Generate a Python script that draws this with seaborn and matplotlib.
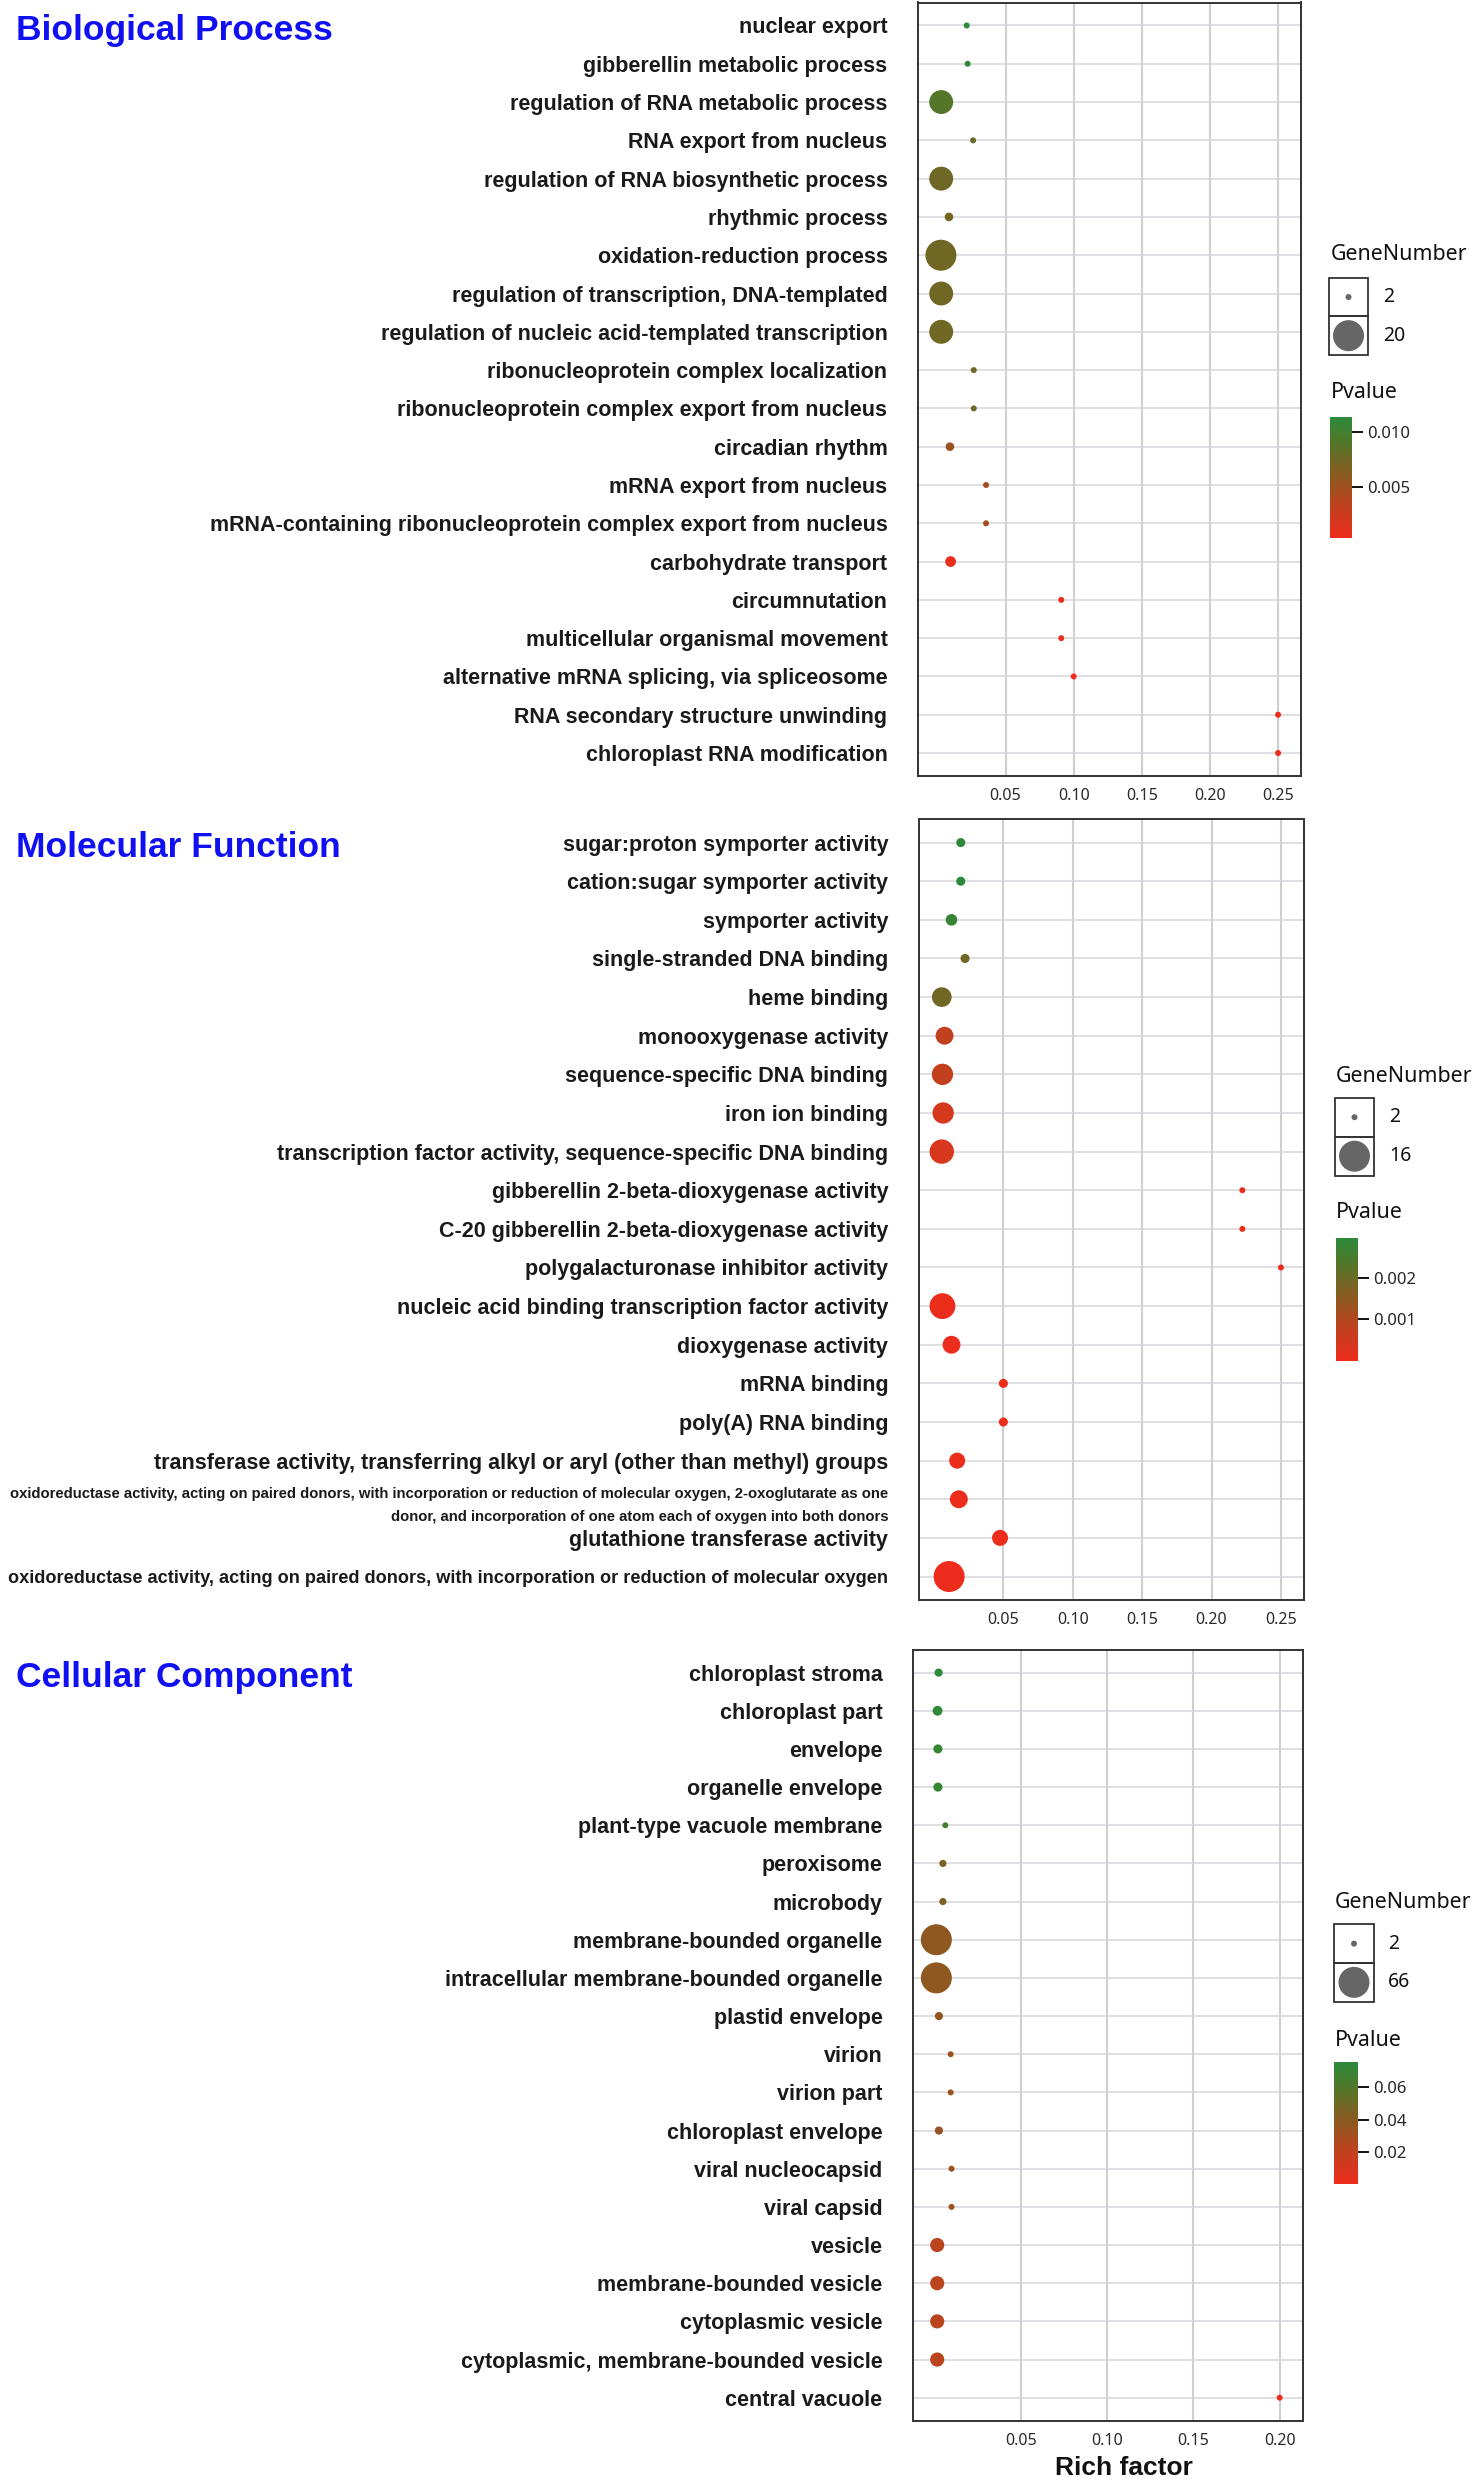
"""GO enrichment bubble chart: Biological Process, Molecular Function, Cellular Component."""

import matplotlib

matplotlib.use("Agg")
import matplotlib.pyplot as plt
import numpy as np
import pandas as pd
import seaborn as sns
from matplotlib import cm
from matplotlib.colors import LinearSegmentedColormap, Normalize
from matplotlib.patches import Rectangle

# ---------------- data ----------------
BP_TERMS = [
    "nuclear export",
    "gibberellin metabolic process",
    "regulation of RNA metabolic process",
    "RNA export from nucleus",
    "regulation of RNA biosynthetic process",
    "rhythmic process",
    "oxidation-reduction process",
    "regulation of transcription, DNA-templated",
    "regulation of nucleic acid-templated transcription",
    "ribonucleoprotein complex localization",
    "ribonucleoprotein complex export from nucleus",
    "circadian rhythm",
    "mRNA export from nucleus",
    "mRNA-containing ribonucleoprotein complex export from nucleus",
    "carbohydrate transport",
    "circumnutation",
    "multicellular organismal movement",
    "alternative mRNA splicing, via spliceosome",
    "RNA secondary structure unwinding",
    "chloroplast RNA modification",
]
BP_RICH = [0.0215, 0.0222, 0.0028, 0.0262, 0.0028, 0.0085, 0.0026, 0.0028, 0.0028, 0.0267,
           0.0267, 0.0092, 0.0357, 0.0357, 0.0097, 0.0909, 0.0909, 0.1000, 0.2500, 0.2500]
BP_GENES = [2, 2, 13, 2, 13, 3, 20, 13, 13, 2, 2, 3, 2, 2, 4, 2, 2, 2, 2, 2]
BP_PVALUE = [0.01134, 0.0110, 0.0089, 0.0078, 0.0075, 0.0073, 0.0074, 0.0074, 0.0074, 0.0076,
             0.0076, 0.0053, 0.0047, 0.0047, 0.0007, 0.00045, 0.00045, 0.0004, 0.00034, 0.00034]

MF_TERMS = [
    "sugar:proton symporter activity",
    "cation:sugar symporter activity",
    "symporter activity",
    "single-stranded DNA binding",
    "heme binding",
    "monooxygenase activity",
    "sequence-specific DNA binding",
    "iron ion binding",
    "transcription factor activity, sequence-specific DNA binding",
    "gibberellin 2-beta-dioxygenase activity",
    "C-20 gibberellin 2-beta-dioxygenase activity",
    "polygalacturonase inhibitor activity",
    "nucleic acid binding transcription factor activity",
    "dioxygenase activity",
    "mRNA binding",
    "poly(A) RNA binding",
    "transferase activity, transferring alkyl or aryl (other than methyl) groups",
    "oxidoreductase activity, acting on paired donors, with incorporation or reduction of molecular oxygen, 2-oxoglutarate as one\n"
    "donor, and incorporation of one atom each of oxygen into both donors",
    "glutathione transferase activity",
    "oxidoreductase activity, acting on paired donors, with incorporation or reduction of molecular oxygen",
]
MF_RICH = [0.0193, 0.0193, 0.0126, 0.0224, 0.0056, 0.0076, 0.0061, 0.0066, 0.0056, 0.2222,
           0.2222, 0.2500, 0.0061, 0.0126, 0.0500, 0.0500, 0.0167, 0.0179, 0.0476, 0.0109]
MF_GENES = [3, 3, 4, 3, 8, 7, 9, 9, 11, 2, 2, 2, 12, 7, 3, 3, 6, 7, 6, 16]
MF_PVALUE = [0.00296, 0.00296, 0.00275, 0.0019, 0.0019, 0.00074, 0.00074, 0.00045, 0.0004, 0.00003,
             0.00003, 0.00002, 0.00006, 0.00005, 0.00004, 0.00004, 0.00003, 0.00003, 0.00002, 0.000005]

CC_TERMS = [
    "chloroplast stroma",
    "chloroplast part",
    "envelope",
    "organelle envelope",
    "plant-type vacuole membrane",
    "peroxisome",
    "microbody",
    "membrane-bounded organelle",
    "intracellular membrane-bounded organelle",
    "plastid envelope",
    "virion",
    "virion part",
    "chloroplast envelope",
    "viral nucleocapsid",
    "viral capsid",
    "vesicle",
    "membrane-bounded vesicle",
    "cytoplasmic vesicle",
    "cytoplasmic, membrane-bounded vesicle",
    "central vacuole",
]
CC_RICH = [0.0023, 0.0017, 0.0019, 0.0019, 0.0062, 0.0048, 0.0048, 0.0010, 0.0010, 0.0025,
           0.0093, 0.0093, 0.0025, 0.0098, 0.0098, 0.0015, 0.0015, 0.0015, 0.0015, 0.2000]
CC_GENES = [4, 6, 5, 5, 2, 3, 3, 66, 66, 4, 2, 2, 4, 2, 2, 13, 13, 13, 13, 2]
CC_PVALUE = [0.075, 0.073, 0.070, 0.070, 0.066, 0.045, 0.045, 0.038, 0.038, 0.036,
             0.033, 0.033, 0.035, 0.032, 0.032, 0.023, 0.023, 0.023, 0.023, 0.0007]

X_TICKS_BP = [0.05, 0.10, 0.15, 0.20, 0.25]
X_TICKS_CC = [0.05, 0.10, 0.15, 0.20]

# ---------------- style ----------------
W, H, DPI = 1476, 2481, 100
LABEL_FONT = "Liberation Sans"
SMALL_FONT = "Noto Sans"
CMAP = LinearSegmentedColormap.from_list(
    "pval",
    [(0.0, "#EE2C1C"), (0.3, "#B9441E"), (0.5, "#8E5820"), (0.62, "#766424"),
     (0.8, "#50782A"), (1.0, "#2C8A3A")],
)


def px_rect(left, top, right, bottom):
    return [left / W, 1 - bottom / H, (right - left) / W, (bottom - top) / H]


def point_area(value, vmin, vmax, dmin=6.0, dmax=31.0):
    """Marker area (pt^2) so that diameters in px run dmin..dmax on a sqrt scale."""
    frac = (np.sqrt(value) - np.sqrt(vmin)) / (np.sqrt(vmax) - np.sqrt(vmin))
    diameter_px = dmin + (dmax - dmin) * frac
    return (diameter_px * 72 / DPI) ** 2


def draw_panel(fig, title, terms, rich, genes, pvals, ticks, box, legend, cbar_ticks, cbar_fmt):
    df = pd.DataFrame({"term": terms, "rich": rich, "genes": genes, "pvalue": pvals})
    gmin, gmax = min(genes), max(genes)
    pnorm = (min(pvals), max(pvals))
    sizes = {g: point_area(g, gmin, gmax) for g in sorted(set(genes))}

    ax = fig.add_axes(px_rect(*box))
    sns.scatterplot(
        data=df, x="rich", y="term", hue="pvalue", palette=CMAP, hue_norm=pnorm,
        size="genes", sizes=sizes, legend=False, linewidth=0, ax=ax, zorder=3,
    )
    n = len(terms)
    ax.set_yticks(np.arange(n))
    ax.set_yticklabels(terms)
    ax.set_ylim(n - 1 + 0.6, -0.6)
    span = max(rich) - min(rich)
    ax.set_xlim(min(rich) - 0.068 * span, max(rich) + 0.068 * span)
    ax.set_xticks(ticks)
    ax.set_xticklabels([f"{t:.2f}" for t in ticks])
    ax.set_xlabel("")
    ax.set_ylabel("")
    ax.set_axisbelow(True)
    ax.grid(axis="x", color="#cfcfcf", linewidth=1.5)
    ax.grid(axis="y", color="#d6d6dc", linewidth=1.1)
    for spine in ax.spines.values():
        spine.set_color("#333333")
        spine.set_linewidth(1.4)
    ax.tick_params(axis="x", length=0, pad=9, labelsize=11.5, labelcolor="#2a2a2a")
    ax.tick_params(axis="y", length=5, width=1.1, color="#c4c4c4", pad=17)
    for lab in ax.get_xticklabels():
        lab.set_family(SMALL_FONT)
    for lab in ax.get_yticklabels():
        text = lab.get_text()
        lab.set_family(LABEL_FONT)
        lab.set_fontweight("bold")
        lab.set_color("#1a1a1a")
        if "\n" in text:
            lab.set_fontsize(10.7)
            lab.set_linespacing(1.8)
        elif len(text) > 90:
            lab.set_fontsize(13.1)
        else:
            lab.set_fontsize(15.5)

    fig.text(16 / W, 1 - (box[1] + 28) / H, title, color="#1010F2", fontsize=25.5,
             fontweight="bold", family=LABEL_FONT, va="center", ha="left")

    # GeneNumber legend (ggplot-style boxed keys)
    tx = legend["title_x"]
    fig.text(tx / W, 1 - legend["title_y"] / H, "GeneNumber", fontsize=15.4,
             family=SMALL_FONT, va="center", ha="left", color="#111111")
    kx0, ky0, kx1, ky1 = legend["keys"]
    lax = fig.add_axes(px_rect(kx0, ky0, kx1, ky1))
    lax.set_xlim(0, 1)
    lax.set_ylim(2, 0)
    lax.axis("off")
    for i in range(2):
        lax.add_patch(Rectangle((0, i), 1, 1, fill=False, edgecolor="#333333",
                                linewidth=1.3, clip_on=False))
    lax.scatter([0.5, 0.5], [0.5, 1.5], s=[sizes[gmin], sizes[gmax]], color="#666666",
                linewidths=0)
    key_h = (ky1 - ky0) / 2
    for i, g in enumerate([gmin, gmax]):
        fig.text(legend["label_x"] / W, 1 - (ky0 + key_h * (i + 0.5)) / H, str(g),
                 fontsize=14, family=SMALL_FONT, va="center", ha="left", color="#111111")

    # Pvalue colourbar
    fig.text(tx / W, 1 - legend["pv_title_y"] / H, "Pvalue", fontsize=15.4,
             family=SMALL_FONT, va="center", ha="left", color="#111111")
    cax = fig.add_axes(px_rect(*legend["cbar"]))
    mappable = cm.ScalarMappable(norm=Normalize(*pnorm), cmap=CMAP)
    cbar = fig.colorbar(mappable, cax=cax, ticks=cbar_ticks)
    cbar.outline.set_visible(False)
    cbar.ax.set_yticklabels([cbar_fmt.format(t) for t in cbar_ticks])
    cax.tick_params(length=8, width=1.4, color="#111111", labelsize=12, pad=3)
    for lab in cax.get_yticklabels():
        lab.set_family(SMALL_FONT)
    return ax


def main():
    sns.set_theme(style="white")
    plt.rcParams["font.family"] = [LABEL_FONT, "DejaVu Sans"]
    fig = plt.figure(figsize=(W / DPI, H / DPI), dpi=DPI)

    draw_panel(
        fig, "Biological Process", BP_TERMS, BP_RICH, BP_GENES, BP_PVALUE, X_TICKS_BP,
        box=(918, 2.5, 1301, 776),
        legend={"title_x": 1331, "title_y": 255, "keys": (1329, 277.7, 1368, 355),
                "label_x": 1383, "pv_title_y": 393, "cbar": (1330, 417, 1352, 538)},
        cbar_ticks=[0.005, 0.010], cbar_fmt="{:.3f}",
    )
    draw_panel(
        fig, "Molecular Function", MF_TERMS, MF_RICH, MF_GENES, MF_PVALUE, X_TICKS_BP,
        box=(918.7, 819.4, 1304, 1599.7),
        legend={"title_x": 1336, "title_y": 1076.7, "keys": (1335, 1097.7, 1374, 1175.7),
                "label_x": 1389, "pv_title_y": 1213, "cbar": (1336, 1237.7, 1358, 1360.7)},
        cbar_ticks=[0.001, 0.002], cbar_fmt="{:.3f}",
    )
    draw_panel(
        fig, "Cellular Component", CC_TERMS, CC_RICH, CC_GENES, CC_PVALUE, X_TICKS_CC,
        box=(913, 1649.7, 1303, 2420.6),
        legend={"title_x": 1335, "title_y": 1903, "keys": (1334, 1924.3, 1374, 2001.7),
                "label_x": 1388, "pv_title_y": 2040.7, "cbar": (1334, 2062.3, 1358, 2184)},
        cbar_ticks=[0.02, 0.04, 0.06], cbar_fmt="{:.2f}",
    )
    fig.text(1124 / W, 1 - 2468 / H, "Rich factor", fontsize=19, fontweight="bold",
             family=LABEL_FONT, ha="center", va="center", color="#111111")

    fig.savefig("out.png", dpi=DPI)
    plt.close(fig)


if __name__ == "__main__":
    main()
